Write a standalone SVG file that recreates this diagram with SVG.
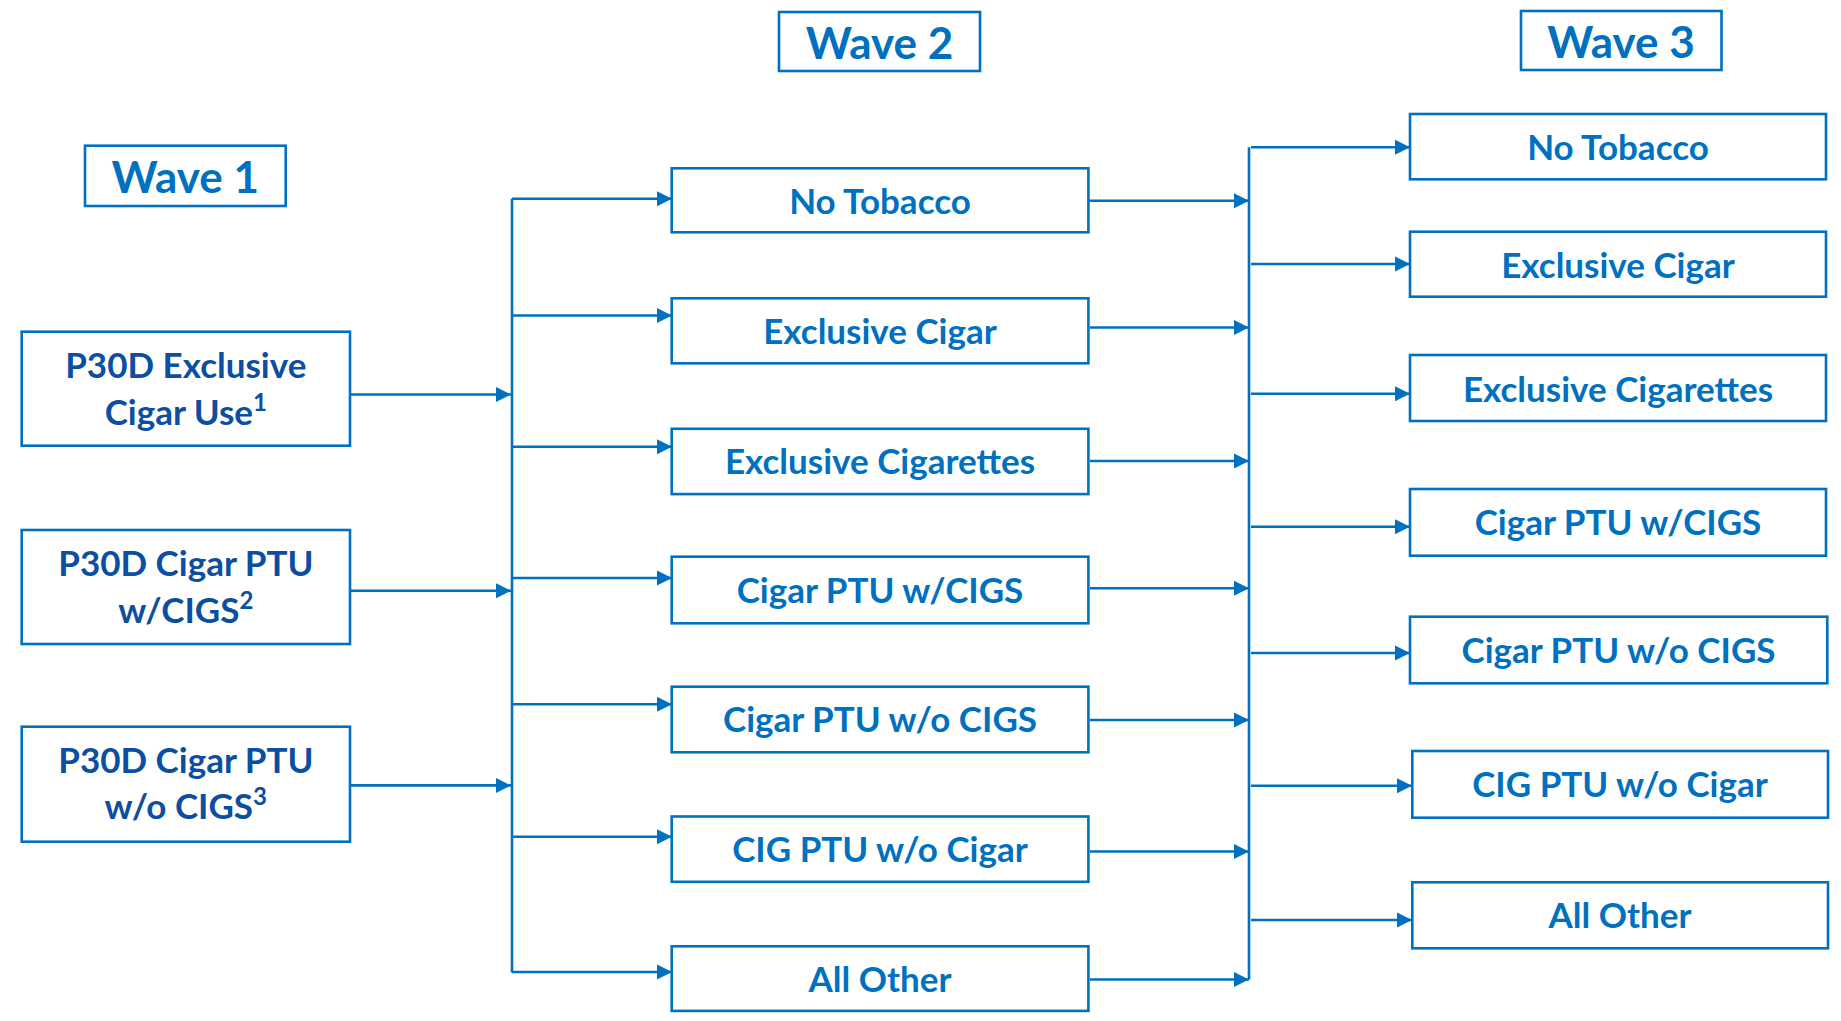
<svg xmlns="http://www.w3.org/2000/svg" width="1841" height="1021" viewBox="0 0 1841 1021">
<defs>
<marker id="arr" markerUnits="userSpaceOnUse" markerWidth="17" markerHeight="17" viewBox="0 0 17 17" refX="15" refY="8.5" orient="auto">
<path d="M0,1 L15,8.5 L0,16 Z" fill="#0070C0"/>
</marker>
</defs>
<style>
.box{fill:#FFFFFF;stroke:#0070C0;stroke-width:2.6}
.t{font-family:Lato,"Liberation Sans","Open Sans",sans-serif;font-weight:bold;fill:#0070C0;text-anchor:middle}
.lbl{font-size:35px}
.wave{font-size:44px}
.left{font-size:35px;fill:#0B4EA2}
.sup{font-size:24px}
.c{fill:none;stroke:#0070C0;stroke-width:2.6}
.a{fill:none;stroke:#0070C0;stroke-width:2.6;marker-end:url(#arr)}
</style>
<rect width="1841" height="1021" fill="#FFFFFF"/>

<g id="connectors">
<line class="a" x1="350" y1="394.5" x2="511" y2="394.5"/>
<line class="a" x1="350" y1="590.7" x2="511" y2="590.7"/>
<line class="a" x1="350" y1="785.4" x2="511" y2="785.4"/>
<line class="c" x1="512" y1="198.7" x2="512" y2="972.5"/>
<line class="a" x1="512" y1="198.7" x2="672" y2="198.7"/>
<line class="a" x1="512" y1="315.5" x2="672" y2="315.5"/>
<line class="a" x1="512" y1="446.8" x2="672" y2="446.8"/>
<line class="a" x1="512" y1="578" x2="672" y2="578"/>
<line class="a" x1="512" y1="704.3" x2="672" y2="704.3"/>
<line class="a" x1="512" y1="836.7" x2="672" y2="836.7"/>
<line class="a" x1="512" y1="972" x2="672" y2="972"/>
<line class="a" x1="1088.5" y1="200.7" x2="1249" y2="200.7"/>
<line class="a" x1="1090" y1="327.5" x2="1249" y2="327.5"/>
<line class="a" x1="1090" y1="461" x2="1249" y2="461"/>
<line class="a" x1="1090" y1="588.3" x2="1249" y2="588.3"/>
<line class="a" x1="1090" y1="720" x2="1249" y2="720"/>
<line class="a" x1="1090" y1="851.5" x2="1249" y2="851.5"/>
<line class="a" x1="1090" y1="979.5" x2="1249" y2="979.5"/>
<line class="c" x1="1249" y1="147.3" x2="1249" y2="979.5"/>
<line class="a" x1="1251" y1="147.3" x2="1410" y2="147.3"/>
<line class="a" x1="1251" y1="264" x2="1410" y2="264"/>
<line class="a" x1="1251" y1="393.8" x2="1410" y2="393.8"/>
<line class="a" x1="1251" y1="526.8" x2="1410" y2="526.8"/>
<line class="a" x1="1251" y1="653" x2="1410" y2="653"/>
<line class="a" x1="1251" y1="785.7" x2="1412" y2="785.7"/>
<line class="a" x1="1251" y1="920" x2="1412" y2="920"/>
</g>

<g id="wave1-header"><rect class="box" x="85" y="145.7" width="200.7" height="60.3"/><text class="t wave" x="185.3" y="193.3">Wave 1</text></g>
<g id="wave2-header"><rect class="box" x="779" y="12" width="201" height="59"/><text class="t wave" x="879.5" y="59.3">Wave 2</text></g>
<g id="wave3-header"><rect class="box" x="1521" y="11" width="200.5" height="59"/><text class="t wave" x="1621" y="57.8">Wave 3</text></g>

<g id="w1-exclusive-cigar"><rect class="box" x="21.7" y="331.7" width="328.3" height="114"/><text class="t left" x="185.8" y="378.3">P30D Exclusive</text><text class="t left" x="185.8" y="425">Cigar Use<tspan class="sup" dy="-14">1</tspan></text></g>
<g id="w1-cigar-ptu-with-cigs"><rect class="box" x="21.7" y="530" width="328.3" height="114"/><text class="t left" x="185.8" y="576">P30D Cigar PTU</text><text class="t left" x="185.8" y="622.7">w/CIGS<tspan class="sup" dy="-14">2</tspan></text></g>
<g id="w1-cigar-ptu-without-cigs"><rect class="box" x="21.7" y="726.7" width="328.3" height="115"/><text class="t left" x="185.8" y="773.3">P30D Cigar PTU</text><text class="t left" x="185.8" y="819.3">w/o CIGS<tspan class="sup" dy="-14">3</tspan></text></g>

<g id="w2-no-tobacco"><rect class="box" x="671.7" y="168.3" width="416.7" height="64"/><text class="t lbl" x="880" y="213.5">No Tobacco</text></g>
<g id="w2-exclusive-cigar"><rect class="box" x="671.7" y="298.3" width="416.7" height="65"/><text class="t lbl" x="880" y="343.5">Exclusive Cigar</text></g>
<g id="w2-exclusive-cigarettes"><rect class="box" x="671.7" y="428.8" width="416.7" height="65.3"/><text class="t lbl" x="880" y="473.5">Exclusive Cigarettes</text></g>
<g id="w2-cigar-ptu-with-cigs"><rect class="box" x="671.7" y="556.7" width="416.7" height="66.6"/><text class="t lbl" x="880" y="602.7">Cigar PTU w/CIGS</text></g>
<g id="w2-cigar-ptu-without-cigs"><rect class="box" x="671.7" y="686.7" width="416.7" height="65.6"/><text class="t lbl" x="880" y="732.3">Cigar PTU w/o CIGS</text></g>
<g id="w2-cig-ptu-without-cigar"><rect class="box" x="671.7" y="816.5" width="416.7" height="65.3"/><text class="t lbl" x="880" y="862">CIG PTU w/o Cigar</text></g>
<g id="w2-all-other"><rect class="box" x="671.7" y="946.3" width="416.7" height="64.6"/><text class="t lbl" x="880" y="991.5">All Other</text></g>

<g id="w3-no-tobacco"><rect class="box" x="1410" y="114" width="416" height="65.3"/><text class="t lbl" x="1618" y="160">No Tobacco</text></g>
<g id="w3-exclusive-cigar"><rect class="box" x="1410" y="231.7" width="416" height="65"/><text class="t lbl" x="1618" y="277.5">Exclusive Cigar</text></g>
<g id="w3-exclusive-cigarettes"><rect class="box" x="1410" y="355" width="416" height="66"/><text class="t lbl" x="1618" y="401.5">Exclusive Cigarettes</text></g>
<g id="w3-cigar-ptu-with-cigs"><rect class="box" x="1410" y="489" width="416" height="66.7"/><text class="t lbl" x="1618" y="534.5">Cigar PTU w/CIGS</text></g>
<g id="w3-cigar-ptu-without-cigs"><rect class="box" x="1410" y="616.7" width="417.3" height="66.6"/><text class="t lbl" x="1618.5" y="662.7">Cigar PTU w/o CIGS</text></g>
<g id="w3-cig-ptu-without-cigar"><rect class="box" x="1412.3" y="751" width="415.7" height="66.7"/><text class="t lbl" x="1620" y="796.8">CIG PTU w/o Cigar</text></g>
<g id="w3-all-other"><rect class="box" x="1412.3" y="882.3" width="415.7" height="66"/><text class="t lbl" x="1620" y="928.3">All Other</text></g>
</svg>
